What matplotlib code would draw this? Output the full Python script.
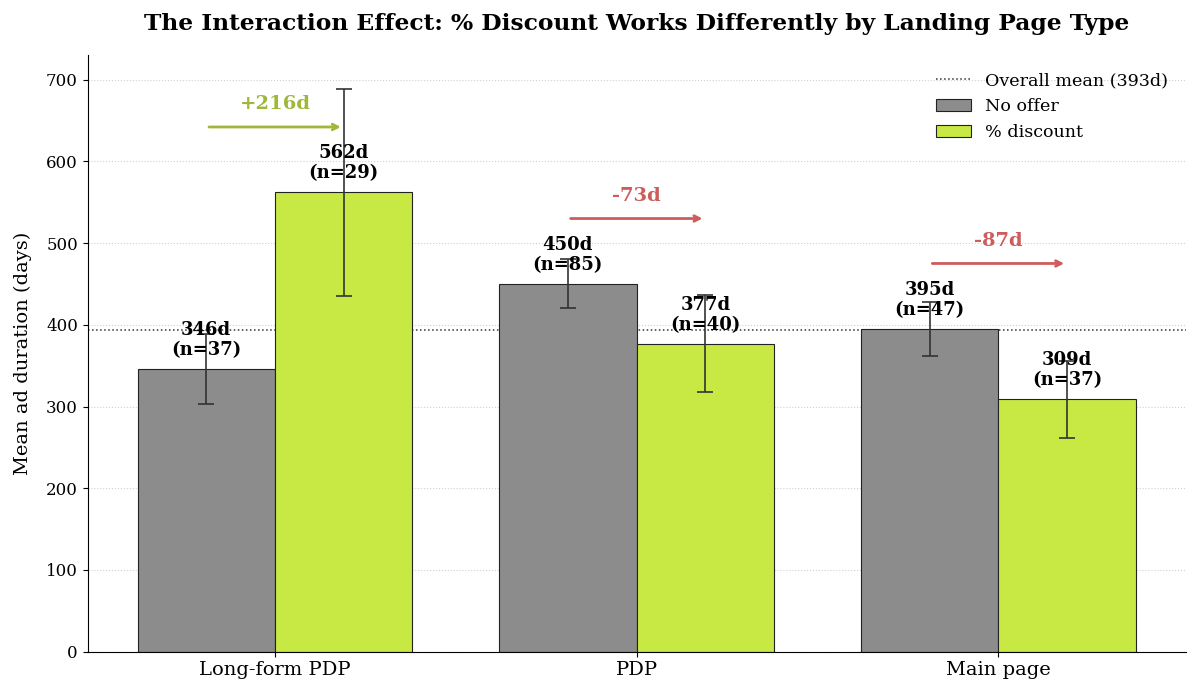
import matplotlib
matplotlib.use("Agg")
import matplotlib.pyplot as plt
import numpy as np

# data
pages = ["Long-form PDP", "PDP", "Main page"]
no_offer = [346, 450, 395]
no_offer_err = [43, 30, 33]
no_offer_n = [37, 85, 47]
discount = [562, 377, 309]
discount_err = [127, 59, 47]
discount_n = [29, 40, 37]
deltas = [216, -73, -87]  # as printed (computed on unrounded means)
overall_mean = 393

GRAY = "#8c8c8c"
GREEN = "#c8e843"
UP = "#9fb83a"
DOWN = "#cd5c5c"

plt.rcParams["font.family"] = "DejaVu Serif"

fig, ax = plt.subplots(figsize=(12, 6.97), dpi=100)
x = np.arange(len(pages))
w = 0.38

ax.bar(x - w / 2, no_offer, w, color=GRAY, edgecolor="#222222", linewidth=0.8,
       label="No offer", zorder=2)
ax.bar(x + w / 2, discount, w, color=GREEN, edgecolor="#222222", linewidth=0.8,
       label="% discount", zorder=2)
ax.errorbar(x - w / 2, no_offer, yerr=no_offer_err, fmt="none", ecolor="#333333",
            elinewidth=1.2, capsize=6, capthick=1.2, zorder=3)
ax.errorbar(x + w / 2, discount, yerr=discount_err, fmt="none", ecolor="#333333",
            elinewidth=1.2, capsize=6, capthick=1.2, zorder=3)

for xi, v, n in zip(x - w / 2, no_offer, no_offer_n):
    ax.text(xi, v + 12, f"{v}d\n(n={n})", ha="center", va="bottom",
            fontsize=13, fontweight="bold", linespacing=1.15, zorder=4)
for xi, v, n in zip(x + w / 2, discount, discount_n):
    ax.text(xi, v + 12, f"{v}d\n(n={n})", ha="center", va="bottom",
            fontsize=13, fontweight="bold", linespacing=1.15, zorder=4)

ax.axhline(overall_mean, color="#333333", linestyle=":", linewidth=1.1,
           label=f"Overall mean ({overall_mean}d)", zorder=1)

for xi, a, b, d in zip(x, no_offer, discount, deltas):
    col = UP if d > 0 else DOWN
    ya = max(a, b) + 80
    ax.annotate("", xy=(xi + 0.19, ya), xytext=(xi - 0.19, ya),
                arrowprops=dict(arrowstyle="->", color=col, lw=2), zorder=4)
    ax.text(xi, ya + 28, f"{d:+d}d", ha="center", va="center",
            fontsize=14, fontweight="bold", color=col)

ax.set_ylim(0, 730)
ax.set_xticks(x)
ax.set_xticklabels(pages, fontsize=14)
ax.tick_params(axis="y", labelsize=12)
ax.set_ylabel("Mean ad duration (days)", fontsize=14, labelpad=10)
ax.set_title("The Interaction Effect: % Discount Works Differently by Landing Page Type",
             fontsize=16.8, fontweight="bold", pad=18)
ax.yaxis.grid(True, linestyle=":", color="#d0d0d0", linewidth=0.8, zorder=0)
ax.set_axisbelow(True)
ax.spines["top"].set_visible(False)
ax.spines["right"].set_visible(False)
ax.legend(loc="upper right", frameon=False, fontsize=12.6, borderaxespad=0.6)

fig.subplots_adjust(left=0.073, right=0.988, top=0.921, bottom=0.065)
fig.savefig("out.png", facecolor="white")
